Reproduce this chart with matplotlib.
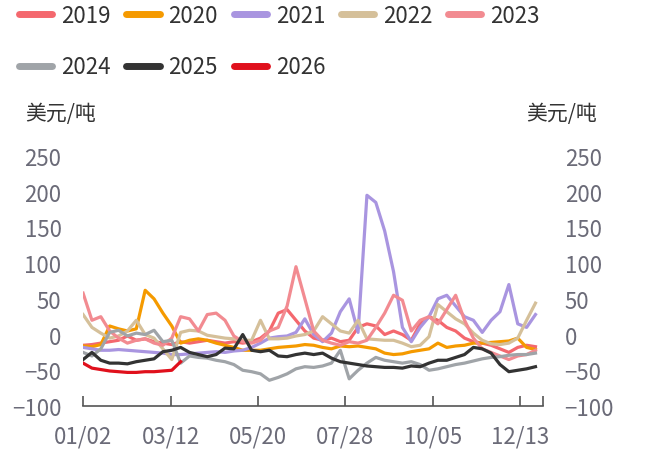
import numpy as np
import matplotlib
matplotlib.use('Agg')
import matplotlib.pyplot as plt

plt.rcParams['font.family'] = ['Noto Sans CJK SC', 'DejaVu Sans']

# weekly samples, x = day of year (01/02 = 1)
days = np.arange(1, 365, 7)

tick_days = [1, 70, 139, 208, 277, 346]
tick_labels = ['01/02', '03/12', '05/20', '07/28', '10/05', '12/13']

y2019 = [-15, -14, -12, -10, -8, -2, -8, -6, -10, -12, -14, -10, -12, -10, -8, -10, -12, -10,
         -12, -10, -5, 5, 30, 35, 20, 5, -5, -8, -5, -10, -8, 10, 15, 12, 0, 5, 0, -8, 15, 25,
         20, 10, 5, -5, -10, -12, -15, -20, -25, -18, -15, -17]
y2020 = [-16, -17, -14, 12, 8, 5, 8, 62, 50, 30, 12, -12, -8, -6, -8, -12, -15, -18, -22,
         -22, -22, -20, -18, -17, -16, -14, -15, -18, -20, -16, -17, -16, -18, -20, -26, -28,
         -27, -24, -22, -20, -12, -18, -16, -15, -12, -12, -11, -10, -9, -5, -18, -21]
y2021 = [-18, -20, -22, -22, -21, -22, -23, -24, -25, -26, -28, -28, -27, -26, -25, -24,
         -25, -23, -22, -18, -12, -5, -3, -2, 3, 22, 0, -10, 2, 32, 50, 3, 195, 185, 145, 88,
         10, -10, 10, 25, 50, 55, 40, 25, 20, 3, 20, 32, 70, 15, 10, 28]
y2022 = [28, 10, 2, -5, -2, 5, 20, 0, -5, -20, -35, 3, 6, 5, -1, -3, -5, -6, -8, -8, 20,
         -6, -6, -5, -2, 0, 5, 25, 15, 5, 2, 20, -6, -7, -8, -8, -12, -17, -15, -3, 42, 32,
         22, 15, 2, -8, -13, -14, -12, -5, 20, 44]
y2023 = [58, 20, 25, 5, -5, -12, -8, -6, -12, -15, -5, 25, 22, 5, 28, 30, 20, -2, -10, -12,
         -8, 5, 10, 40, 95, 50, 5, -8, -12, -15, -10, -12, -8, 10, 30, 55, 48, 5, 20, 25, 15,
         35, 55, 20, -5, -20, -25, -30, -35, -30, -28, -22]
y2024 = [-25, -30, -20, 3, 6, -2, 2, 0, 6, -10, -8, -40, -30, -32, -33, -36, -38, -42, -50,
         -52, -55, -64, -60, -55, -48, -45, -46, -44, -40, -22, -62, -50, -40, -32, -36, -38,
         -40, -38, -42, -50, -48, -45, -42, -40, -37, -34, -32, -31, -29, -28, -28, -26]
y2025 = [-35, -25, -36, -40, -40, -41, -38, -36, -34, -24, -22, -18, -25, -28, -31, -28, -19,
         -20, 0, -22, -24, -22, -30, -31, -28, -26, -28, -26, -33, -38, -40, -42, -44, -45,
         -46, -46, -47, -44, -45, -40, -36, -36, -32, -28, -18, -20, -26, -42, -52, -50, -48,
         -45]
y2026 = [-40, -47, -49, -51, -52, -53, -53, -52, -52, -51, -50, -38]

series = [
    ('2019', y2019, '#f4686e'),
    ('2020', y2020, '#f59a00'),
    ('2021', y2021, '#a995e0'),
    ('2022', y2022, '#d5c09a'),
    ('2023', y2023, '#f28b91'),
    ('2024', y2024, '#a0a4a8'),
    ('2025', y2025, '#333333'),
    ('2026', y2026, '#e0101c'),
]

fig = plt.figure(figsize=(6.49, 4.52), dpi=100)
ax = fig.add_axes([0.128, 0.0996, 0.7088, 0.5531])

lines = {}
for name, vals, color in series:
    ln, = ax.plot(days[:len(vals)], vals, color=color, lw=2.3, label=name,
                  solid_joinstyle='round')
    lines[name] = ln

ax.set_xlim(1, 364)
ax.set_ylim(-100, 250)
ax.set_yticks(range(-100, 251, 50))
ax.set_xticks(tick_days)
ax.set_xticklabels(tick_labels)
ax.set_xticks([364], minor=True)

for s in ['top', 'left', 'right']:
    ax.spines[s].set_visible(False)
ax.spines['bottom'].set_color('#555555')
ax.spines['bottom'].set_linewidth(1.2)

tick_col = '#6b6b78'
ax.tick_params(axis='y', left=False, right=False, labelleft=True, labelright=True,
               labelsize=16, labelcolor=tick_col, pad=12)
ax.tick_params(axis='x', which='both', direction='in', length=7, width=1.2,
               color='#555555', labelsize=16, labelcolor=tick_col, pad=13)

fig.text(0.0385, 0.748, '美元/吨', fontsize=15, color='#333333', ha='left', va='center')
fig.text(0.92, 0.748, '美元/吨', fontsize=15, color='#333333', ha='right', va='center')

# column-wise fill -> reorder so rows read 2019..2023 / 2024..2026
order = ['2019', '2024', '2020', '2025', '2021', '2026', '2022', '2023']
leg = fig.legend([lines[k] for k in order], order, loc='upper left',
                 bbox_to_anchor=(0.029, 0.99), ncol=5, frameon=False, fontsize=16,
                 handlelength=1.5, handletextpad=0.4, columnspacing=0.7,
                 labelspacing=1.3, borderpad=0, borderaxespad=0)
for t in leg.get_texts():
    t.set_color('#333333')
for h in leg.legend_handles:
    h.set_linewidth(5)
    h.set_solid_capstyle('round')

fig.savefig('out.png', dpi=100)
